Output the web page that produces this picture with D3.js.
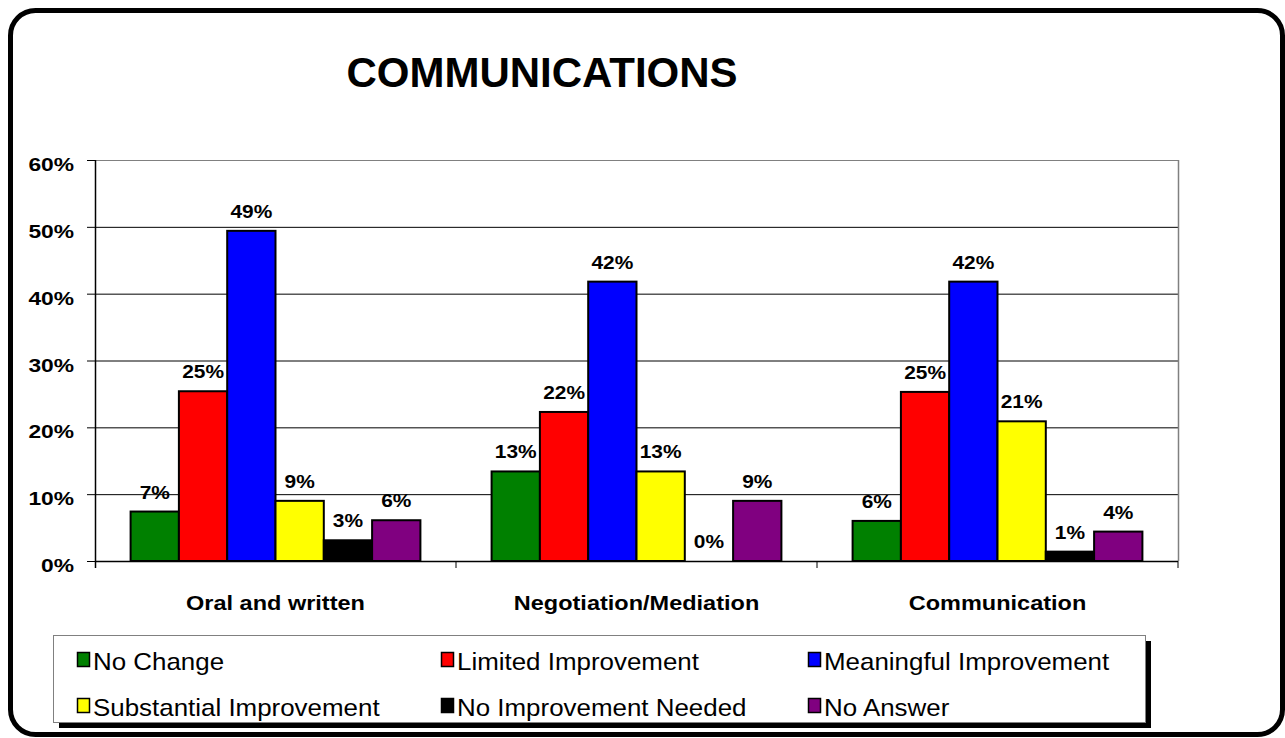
<!DOCTYPE html>
<html>
<head>
<meta charset="utf-8">
<script src="https://cdn.jsdelivr.net/npm/d3@7"></script>
<style>
  body { margin: 0; background: #fff; }
  text { font-family: "Liberation Sans", Arial, sans-serif; }
</style>
</head>
<body>
<div id="chart"></div>
<script>
// chart data
var categories = ["Oral and written", "Negotiation/Mediation", "Communication"];
var seriesNames = ["No Change", "Limited Improvement", "Meaningful Improvement",
                   "Substantial Improvement", "No Improvement Needed", "No Answer"];
var seriesColors = ["#008000", "#ff0000", "#0000ff", "#ffff00", "#000000", "#800080"];
var noChange = [0.074, 0.134, 0.060];
var limited = [0.254, 0.223, 0.253];
var meaningful = [0.494, 0.418, 0.418];
var substantial = [0.090, 0.134, 0.209];
var notNeeded = [0.031, 0.000, 0.014];
var noAnswer = [0.061, 0.090, 0.044];
var yTicks = [0, 0.1, 0.2, 0.3, 0.4, 0.5, 0.6];

var seriesValues = [noChange, limited, meaningful, substantial, notNeeded, noAnswer];

var W = 1285, H = 738;
var svg = d3.select("#chart").append("svg")
    .attr("width", W).attr("height", H);

// outer frame
svg.append("rect")
    .attr("x", 10.5).attr("y", 10.5)
    .attr("width", 1272).attr("height", 724)
    .attr("rx", 25).attr("ry", 25)
    .style("fill", "#fff").style("stroke", "#000").style("stroke-width", 5);

svg.append("text")
    .attr("x", 542).attr("y", 87)
    .attr("text-anchor", "middle")
    .style("font-size", "42px").style("font-weight", "bold")
    .text("COMMUNICATIONS");

var plot = {left: 95, right: 1178, top: 160, bottom: 561};

var x0 = d3.scaleBand().domain(categories).range([plot.left, plot.right]);
var x1 = d3.scaleBand().domain(d3.range(seriesNames.length))
    .range([0, x0.bandwidth()]).paddingInner(0).paddingOuter(0.737);
var y = d3.scaleLinear().domain([0, 0.6]).range([plot.bottom, plot.top]);
var pct = d3.format(".0%");

// gridlines
svg.append("g").selectAll("line").data(yTicks.slice(1)).join("line")
    .attr("x1", plot.left).attr("x2", plot.right)
    .attr("y1", function (d) { return y(d) + 0.5; })
    .attr("y2", function (d) { return y(d) + 0.5; })
    .style("stroke", function (d) { return d === 0.6 ? "#808080" : "#000"; })
    .style("stroke-width", 1);

// right border of plot area
svg.append("line")
    .attr("x1", plot.right + 0.5).attr("x2", plot.right + 0.5)
    .attr("y1", plot.top).attr("y2", plot.bottom)
    .style("stroke", "#808080").style("stroke-width", 1.5);

// bars
var groups = svg.append("g").selectAll("g").data(categories).join("g")
    .attr("transform", function (d) { return "translate(" + x0(d) + ",0)"; });

groups.selectAll("rect")
    .data(function (d, ci) {
        return seriesValues.map(function (vals, si) { return {s: si, v: vals[ci]}; });
    })
    .join("rect")
    .attr("x", function (d) { return x1(d.s); })
    .attr("y", function (d) { return y(d.v); })
    .attr("width", x1.bandwidth())
    .attr("height", function (d) { return plot.bottom - y(d.v); })
    .style("fill", function (d) { return seriesColors[d.s]; })
    .style("stroke", "#000").style("stroke-width", 2);

groups.selectAll("text.val")
    .data(function (d, ci) {
        return seriesValues.map(function (vals, si) { return {s: si, v: vals[ci]}; });
    })
    .join("text").attr("class", "val")
    .attr("transform", function (d) {
        return "translate(" + (x1(d.s) + x1.bandwidth() / 2) + "," + (y(d.v) - 13) + ") scale(1.1,1)";
    })
    .attr("text-anchor", "middle")
    .style("font-size", "19px").style("font-weight", "bold")
    .text(function (d) { return pct(d.v); });

// y axis
var yAxis = svg.append("g")
    .attr("transform", "translate(" + plot.left + ",0)")
    .call(d3.axisLeft(y).tickValues(yTicks).tickSize(8).tickFormat(""));
yAxis.select(".domain").remove();
yAxis.selectAll("line").style("stroke", "#000");
yAxis.append("line")
    .attr("x1", 0.5).attr("x2", 0.5)
    .attr("y1", plot.top).attr("y2", plot.bottom + 7)
    .style("stroke", "#000").style("stroke-width", 1.5);

svg.append("g").selectAll("text").data(yTicks).join("text")
    .attr("transform", function (d) {
        return "translate(74," + (y(d) + 11) + ") scale(1.2,1)";
    })
    .attr("text-anchor", "end")
    .style("font-size", "19px").style("font-weight", "bold")
    .text(function (d) { return pct(d); });

// x axis
svg.append("line")
    .attr("x1", plot.left).attr("x2", plot.right)
    .attr("y1", plot.bottom + 0.5).attr("y2", plot.bottom + 0.5)
    .style("stroke", "#000").style("stroke-width", 1.5);
var xTicks = categories.map(function (c) { return x0(c) + x0.bandwidth(); });
svg.append("g").selectAll("line").data(xTicks).join("line")
    .attr("x1", function (d) { return d; }).attr("x2", function (d) { return d; })
    .attr("y1", plot.bottom).attr("y2", plot.bottom + 7)
    .style("stroke", "#000").style("stroke-width", 1);

svg.append("g").selectAll("text").data(categories).join("text")
    .attr("transform", function (d) {
        return "translate(" + (x0(d) + x0.bandwidth() / 2) + ",610) scale(1.12,1)";
    })
    .attr("text-anchor", "middle")
    .style("font-size", "21px").style("font-weight", "bold")
    .text(function (d) { return d; });

// legend
var lg = {x: 53, y: 635, w: 1092, h: 87};
svg.append("rect")
    .attr("x", lg.x + 6).attr("y", lg.y + 6)
    .attr("width", lg.w).attr("height", lg.h)
    .style("fill", "#000");
svg.append("rect")
    .attr("x", lg.x + 0.5).attr("y", lg.y + 0.5)
    .attr("width", lg.w).attr("height", lg.h)
    .style("fill", "#fff").style("stroke", "#808080").style("stroke-width", 1);

var legendCols = [77, 441, 808];
var legendRows = [652, 698];
var items = svg.append("g").selectAll("g").data(seriesNames).join("g")
    .attr("transform", function (d, i) {
        return "translate(" + legendCols[i % 3] + "," + legendRows[Math.floor(i / 3)] + ")";
    });
items.append("rect")
    .attr("x", 0.5).attr("y", 0.5).attr("width", 12).attr("height", 14)
    .style("fill", function (d, i) { return seriesColors[i]; })
    .style("stroke", "#000").style("stroke-width", 1.5);
items.append("text")
    .attr("transform", "translate(16,18) scale(1.08,1)")
    .style("font-size", "24px")
    .text(function (d) { return d; });
</script>
</body>
</html>
